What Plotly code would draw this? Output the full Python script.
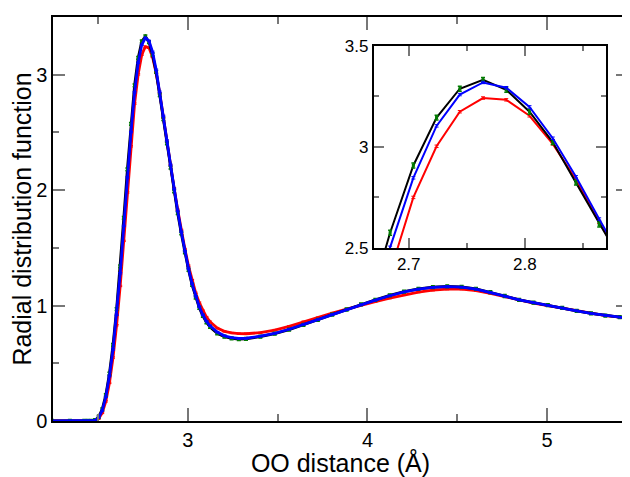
import plotly.graph_objects as go

# OO distance grid (Å)
r = [2.244, 2.344, 2.424, 2.444, 2.464, 2.484, 2.504, 2.524, 2.544, 2.564, 2.584,
     2.604, 2.624, 2.644, 2.664, 2.684, 2.704, 2.724, 2.744, 2.764, 2.784,
     2.804, 2.824, 2.844, 2.864, 2.884, 2.904, 2.924, 2.944, 2.964, 2.984,
     3.004, 3.024, 3.044, 3.064, 3.084, 3.104, 3.124, 3.164, 3.204, 3.244,
     3.284, 3.324, 3.404, 3.484, 3.564, 3.644, 3.724, 3.804, 3.884, 3.964,
     4.044, 4.124, 4.204, 4.284, 4.364, 4.444, 4.524, 4.604, 4.684, 4.764,
     4.844, 4.924, 5.004, 5.084, 5.164, 5.244, 5.324, 5.404, 5.484]

g_blue = [0, 0, 0, 0.0, 0.001, 0.006, 0.03, 0.09, 0.21, 0.39, 0.62,
          0.92, 1.28, 1.69, 2.11, 2.503, 2.847, 3.104, 3.259, 3.319, 3.293,
          3.198, 3.043, 2.852, 2.643, 2.43, 2.22, 2.01, 1.82, 1.64, 1.47,
          1.32, 1.19, 1.08, 0.99, 0.92, 0.865, 0.825, 0.77, 0.738, 0.722,
          0.716, 0.717, 0.735, 0.76, 0.795, 0.835, 0.878, 0.922, 0.965, 1.008,
          1.047, 1.085, 1.118, 1.143, 1.158, 1.165, 1.16, 1.143, 1.115, 1.082,
          1.05, 1.025, 1.003, 0.98, 0.955, 0.932, 0.913, 0.9, 0.89]

g_red = [0, 0, 0, 0.0, 0.0, 0.003, 0.02, 0.07, 0.17, 0.33, 0.55,
         0.83, 1.17, 1.56, 1.98, 2.38, 2.75, 3.003, 3.174, 3.242, 3.233,
         3.154, 3.015, 2.839, 2.627, 2.42, 2.215, 2.015, 1.83, 1.655, 1.49,
         1.345, 1.22, 1.11, 1.025, 0.955, 0.90, 0.86, 0.805, 0.777, 0.763,
         0.757, 0.756, 0.765, 0.788, 0.82, 0.86, 0.895, 0.935, 0.97, 1.005,
         1.035, 1.065, 1.093, 1.117, 1.133, 1.142, 1.142, 1.13, 1.106, 1.077,
         1.047, 1.022, 1.0, 0.978, 0.954, 0.931, 0.913, 0.9, 0.89]

g_green = [0, 0, 0, 0.0, 0.001, 0.007, 0.035, 0.10, 0.225, 0.41, 0.66,
           0.97, 1.34, 1.76, 2.18, 2.575, 2.908, 3.145, 3.288, 3.332, 3.283,
           3.174, 3.024, 2.823, 2.616, 2.405, 2.195, 1.99, 1.80, 1.625, 1.46,
           1.31, 1.18, 1.07, 0.98, 0.91, 0.855, 0.815, 0.76, 0.73, 0.715,
           0.71, 0.711, 0.73, 0.756, 0.792, 0.833, 0.877, 0.922, 0.966, 1.01,
           1.05, 1.088, 1.12, 1.145, 1.16, 1.167, 1.162, 1.145, 1.116, 1.083,
           1.05, 1.025, 1.003, 0.98, 0.955, 0.932, 0.913, 0.9, 0.89]

err_green = 0.012
err_blue = 0.006
err_red = 0.006

x_ticks_main = [3, 4, 5]
y_ticks_main = [0, 1, 2, 3]
x_ticks_inset = [2.7, 2.8]
y_ticks_inset = [2.5, 3, 3.5]

FONT = "Liberation Sans, Arial, sans-serif"

fig = go.Figure()


def add_series(xa, ya, lw):
    fig.add_trace(go.Scatter(x=r, y=g_red, mode="lines", xaxis=xa, yaxis=ya,
                             line=dict(color="#ff0000", width=lw),
                             error_y=dict(type="constant", value=err_red, color="#ff0000",
                                          thickness=1, width=2),
                             showlegend=False, hoverinfo="skip"))
    fig.add_trace(go.Scatter(x=r, y=g_green, mode="lines", xaxis=xa, yaxis=ya,
                             line=dict(color="#000000", width=lw),
                             showlegend=False, hoverinfo="skip"))
    fig.add_trace(go.Scatter(x=r, y=g_green, mode="markers", xaxis=xa, yaxis=ya,
                             marker=dict(color="#007a00", size=3, symbol="square"),
                             error_y=dict(type="constant", value=err_green, color="#007a00",
                                          thickness=1.5, width=2),
                             showlegend=False, hoverinfo="skip"))
    fig.add_trace(go.Scatter(x=r, y=g_blue, mode="lines", xaxis=xa, yaxis=ya,
                             line=dict(color="#0000ff", width=lw),
                             error_y=dict(type="constant", value=err_blue, color="#0000ff",
                                          thickness=1, width=2),
                             showlegend=False, hoverinfo="skip"))


add_series("x", "y", 2.8)
add_series("x2", "y2", 2)

axis_common = dict(showgrid=False, zeroline=False, showline=True, linecolor="black",
                   ticks="inside", tickcolor="#777777", mirror="allticks")

# page body has an 8px margin; figure is sized/margined to place the plot area as in the reference
fig.update_layout(
    width=622, height=469,
    margin=dict(l=45, r=0, t=4, b=56),
    paper_bgcolor="white", plot_bgcolor="white",
    font=dict(family=FONT, color="black"),
    xaxis=dict(**axis_common, domain=[0, 1], range=[2.25, 5.45], linewidth=1.5,
               tickmode="array", tickvals=x_ticks_main, ticklen=13, tickwidth=1.5,
               minor=dict(dtick=0.5, tick0=0, ticks="inside", ticklen=7, tickcolor="#777777", tickwidth=1.5),
               tickfont=dict(size=20, family=FONT),
               title=dict(text="OO distance (Å)", font=dict(size=25, family=FONT), standoff=5)),
    yaxis=dict(**axis_common, domain=[0, 1], range=[0, 3.5], linewidth=1.5,
               tickmode="array", tickvals=y_ticks_main, ticklen=12, tickwidth=1.5,
               minor=dict(dtick=0.5, tick0=0, ticks="inside", ticklen=6, tickcolor="#777777", tickwidth=1.5),
               tickfont=dict(size=20, family=FONT),
               title=dict(text="Radial distribution function", font=dict(size=25, family=FONT), standoff=2)),
    xaxis2=dict(**axis_common, domain=[0.558, 0.962], anchor="y2", range=[2.67, 2.87],
                linewidth=2, tickmode="array", tickvals=x_ticks_inset, ticklen=10, tickwidth=1.5,
                minor=dict(dtick=0.05, tick0=2.7, ticks="inside", ticklen=5, tickcolor="#777777", tickwidth=1.5),
                tickfont=dict(size=17, family=FONT)),
    yaxis2=dict(**axis_common, domain=[0.4284, 0.9285], anchor="x2", range=[2.5, 3.5],
                linewidth=2, tickmode="array", tickvals=y_ticks_inset, ticktext=["2.5", "3", "3.5"],
                ticklen=10, tickwidth=1.5,
                minor=dict(dtick=0.25, tick0=2.5, ticks="inside", ticklen=5, tickcolor="#777777", tickwidth=1.5),
                tickfont=dict(size=17, family=FONT)),
)

fig.write_html("out.html")
